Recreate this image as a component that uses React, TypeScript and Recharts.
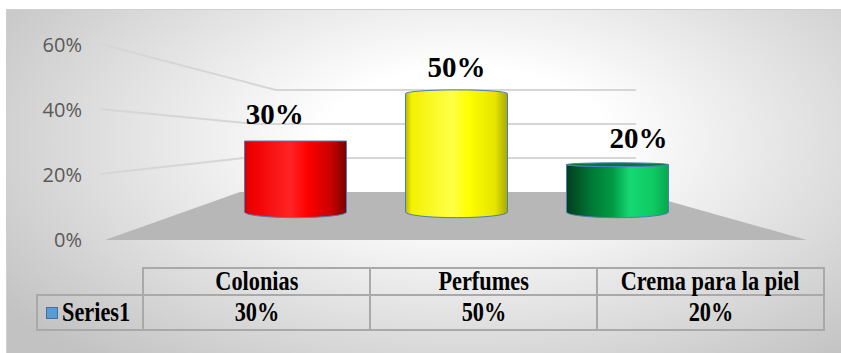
import React from "react";
import { ComposedChart, Bar, Line, XAxis, YAxis, CartesianGrid, LabelList } from "recharts";

const CATEGORIES = ["Colonias", "Perfumes", "Crema para la piel"];
const VALUES = [0.3, 0.5, 0.2];
const Y_TICKS = [0, 0.2, 0.4, 0.6];
const SERIES_NAME = "Series1";

const data = CATEGORIES.map((name, i) => ({ name, value: VALUES[i] }));

const W = 841;
const H = 353;
const PLOT_TOP = 45;
const PLOT_BOTTOM = 240;
const PLOT_LEFT = 214.5;
const PLOT_RIGHT = 697.5;
const Y_MAX = 0.6;

// 3D look: front plane (labels), back wall and cylinder plane each get their own axis
const domainFor = (zeroY: number, topY: number): [number, number] => {
  const k = (zeroY - topY) / Y_MAX;
  const a = -(PLOT_BOTTOM - zeroY) / k;
  return [a, (PLOT_BOTTOM - PLOT_TOP) / k + a];
};
const BACK_DOMAIN = domainFor(192, 90);
const CYL_DOMAIN = domainFor(212, 70);

const HORIZON = 141;
const WALL_RIGHT = 636;
const FLOOR_FRONT_LEFT = 105;
const FLOOR_FRONT_RIGHT = 807;

const FILLS = [
  [["0%", "#d80000"], ["8%", "#f00000"], ["45%", "#ff2424"], ["62%", "#ff0000"], ["85%", "#c80000"], ["100%", "#7a0000"]],
  [["0%", "#b8b800"], ["6%", "#f2f200"], ["45%", "#ffff48"], ["62%", "#ffff00"], ["88%", "#e4e400"], ["100%", "#a8a800"]],
  [["0%", "#003d1c"], ["25%", "#007a36"], ["45%", "#009a44"], ["62%", "#14d872"], ["85%", "#0fca62"], ["100%", "#07a84e"]],
];
const TOP_FACE = ["#b00000", "#d8d800", "#00773a"];

const pct = (v: number) => `${Math.round(v * 100)}%`;
const frontY = (v: number) => PLOT_BOTTOM - (v / Y_MAX) * (PLOT_BOTTOM - PLOT_TOP);

const Cylinder = (props: any) => {
  const { x, y, width, height, index } = props;
  const rx = width / 2;
  const cx = x + rx;
  const base = y + height;
  const ryB = (base - HORIZON) * 0.08;
  const ryT = (y - HORIZON) * 0.08;
  const id = `cyl-grad-${index}`;
  const body = [
    `M${x},${y}`,
    `A${rx},${Math.abs(ryT) || 0.01} 0 0 ${ryT < 0 ? 1 : 0} ${x + width},${y}`,
    `L${x + width},${base}`,
    `A${rx},${ryB} 0 0 1 ${x},${base}`,
    "Z",
  ].join(" ");
  return (
    <g>
      <defs>
        <linearGradient id={id} x1="0" y1="0" x2="1" y2="0">
          {FILLS[index].map(([o, c]) => (
            <stop key={o} offset={o} stopColor={c} />
          ))}
        </linearGradient>
      </defs>
      <path d={body} fill={`url(#${id})`} stroke="#4a7ebb" strokeWidth={1} />
      {ryT > 0.5 && (
        <ellipse cx={cx} cy={y} rx={rx} ry={ryT} fill={TOP_FACE[index]} stroke="#4a7ebb" strokeWidth={1} />
      )}
    </g>
  );
};

const BarLabel = (props: any) => {
  const { x, y, width, value } = props;
  const cx = x + width / 2;
  const mid = (PLOT_LEFT + PLOT_RIGHT) / 2;
  return (
    <text
      x={cx + (cx - mid) * 0.13}
      y={y - 17}
      textAnchor="middle"
      fontFamily="'Liberation Serif', 'Times New Roman', serif"
      fontWeight="bold"
      fontSize={29}
      fill="#000"
    >
      {pct(value)}
    </text>
  );
};

const FrontTick = (props: any) => {
  const { y, payload } = props;
  return (
    <text x={82} y={y} dy="0.35em" textAnchor="end" fontFamily="'Open Sans', sans-serif" fontSize={20} fill="#595959">
      {pct(payload.value)}
    </text>
  );
};

const WallLine = (props: any) => {
  const { y1, index } = props;
  if (index >= Y_TICKS.length) return <g />;
  const v = Y_TICKS[index];
  const fy = frontY(v);
  if (v === 0) {
    return (
      <polygon
        points={`${FLOOR_FRONT_LEFT},${fy} ${FLOOR_FRONT_RIGHT},${fy} ${WALL_RIGHT},${y1} 240,${y1}`}
        fill="#b7b7b7"
      />
    );
  }
  const cornerX = 240 + 100 * v * v;
  return (
    <g stroke="#d6d6d6" strokeWidth={2} fill="none">
      <line x1={100} y1={fy - 1} x2={cornerX} y2={y1} />
      <line x1={cornerX} y1={y1} x2={WALL_RIGHT} y2={y1} />
    </g>
  );
};

const cell: React.CSSProperties = {
  border: "2px solid #a9a9a9",
  textAlign: "center",
  padding: 0,
  whiteSpace: "nowrap",
};

// table text in the reference is drawn a little taller than it is wide
const Tall = ({ children }: { children: React.ReactNode }) => (
  <span style={{ display: "inline-block", transform: "scale(0.97, 1.15)" }}>{children}</span>
);

export default function App() {
  return (
    <div style={{ position: "fixed", left: 0, top: 0, width: W, height: H, background: "#fff", overflow: "hidden" }}>
      <div
        style={{
          position: "absolute",
          left: 6,
          top: 9,
          width: W - 6,
          height: H - 9,
          boxSizing: "border-box",
          borderTop: "1px solid #cfcfcf",
          borderLeft: "1px solid #cfcfcf",
          background: "radial-gradient(ellipse 68% 85% at 55% 38%, #ffffff 25%, #c2c2c2 100%)",
        }}
      />
      <div style={{ position: "absolute", left: 0, top: 0 }}>
        <ComposedChart
          width={W}
          height={H}
          data={data}
          margin={{ top: PLOT_TOP, bottom: H - PLOT_BOTTOM, left: PLOT_LEFT - 120, right: W - PLOT_RIGHT }}
          barSize={102}
        >
          <CartesianGrid yAxisId="back" vertical={false} horizontal={(p: any) => <WallLine key={p.key} {...p} />} />
          <XAxis dataKey="name" hide />
          <YAxis
            yAxisId="front"
            width={120}
            domain={[0, Y_MAX]}
            ticks={Y_TICKS}
            axisLine={false}
            tickLine={false}
            tick={(p: any) => <FrontTick key={p.index} {...p} />}
          />
          <YAxis yAxisId="back" hide domain={BACK_DOMAIN} ticks={Y_TICKS} allowDataOverflow />
          <YAxis yAxisId="cyl" hide domain={CYL_DOMAIN} allowDataOverflow />
          <Bar yAxisId="cyl" dataKey="value" shape={(p: any) => <Cylinder {...p} />} isAnimationActive={false}>
            <LabelList dataKey="value" content={(p: any) => <BarLabel {...p} />} />
          </Bar>
          <Line
            yAxisId="front"
            dataKey="value"
            stroke="none"
            dot={false}
            activeDot={false}
            legendType="none"
            isAnimationActive={false}
          />
        </ComposedChart>
      </div>
      <table
        style={{
          position: "absolute",
          left: 36,
          top: 267,
          width: 788,
          borderCollapse: "collapse",
          tableLayout: "fixed",
          fontFamily: "'Liberation Serif', 'Times New Roman', serif",
          fontWeight: "bold",
          fontSize: 23,
          lineHeight: "22px",
          color: "#000",
        }}
      >
        <colgroup>
          <col style={{ width: 106 }} />
          {CATEGORIES.map((c) => (
            <col key={c} style={{ width: 227 }} />
          ))}
        </colgroup>
        <tbody>
          <tr style={{ height: 27 }}>
            <td style={{ padding: 0 }} />
            {CATEGORIES.map((c) => (
              <td key={c} style={cell}>
                <Tall>{c}</Tall>
              </td>
            ))}
          </tr>
          <tr style={{ height: 35 }}>
            <td style={{ ...cell, textAlign: "left", paddingLeft: 8 }}>
              <span
                style={{
                  display: "inline-block",
                  width: 10,
                  height: 10,
                  background: "#5b9bd5",
                  border: "1px solid #41719c",
                  marginRight: 3,
                  verticalAlign: "middle",
                  position: "relative",
                  top: -1,
                }}
              />
              <Tall>{SERIES_NAME}</Tall>
            </td>
            {VALUES.map((v, i) => (
              <td key={i} style={cell}>
                <Tall>{pct(v)}</Tall>
              </td>
            ))}
          </tr>
        </tbody>
      </table>
    </div>
  );
}
